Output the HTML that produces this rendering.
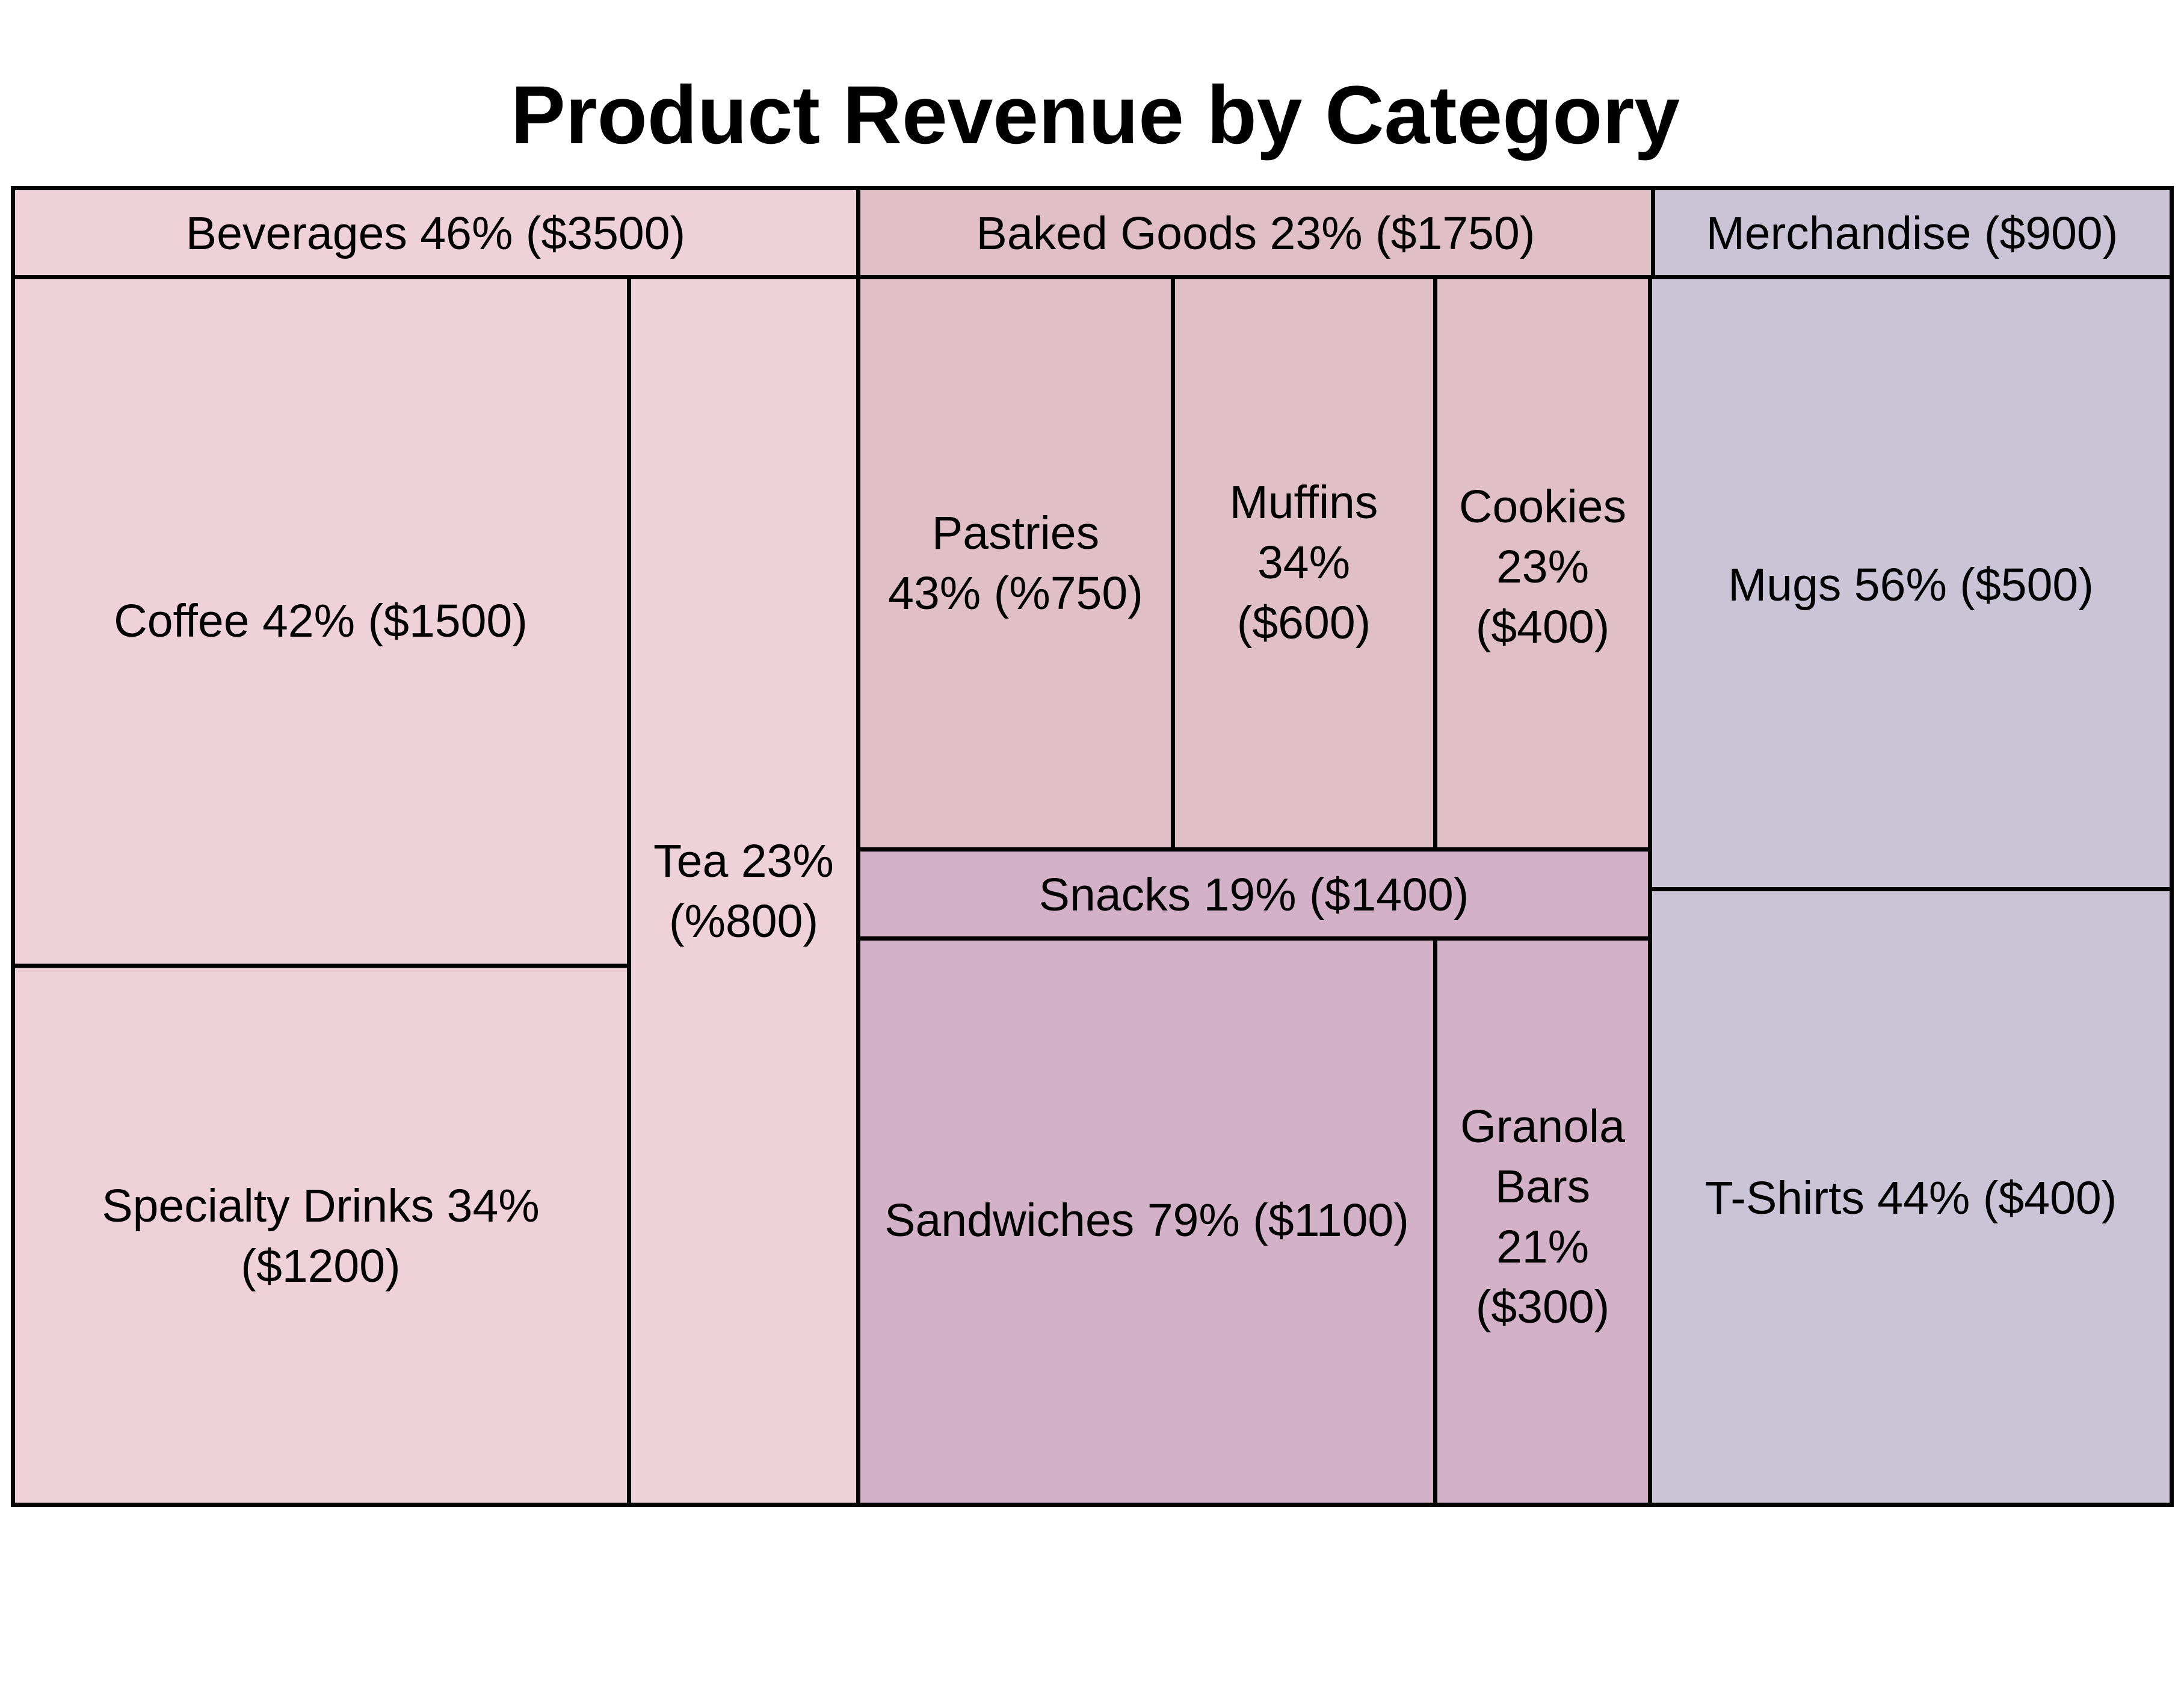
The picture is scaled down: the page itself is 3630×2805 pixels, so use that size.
<!DOCTYPE html>
<html>
<head>
<meta charset="utf-8">
<style>
html,body{margin:0;padding:0;background:#fff;}
svg{display:block;}
text{font-family:"Liberation Sans",Arial,sans-serif;fill:#000;}
</style>
</head>
<body>
<svg width="3630" height="2805" viewBox="0 0 3630 2805" xmlns="http://www.w3.org/2000/svg">
<rect x="0" y="0" width="3630" height="2805" fill="#fff"/>
<!-- Title -->
<text x="1820.5" y="238" font-size="137" font-weight="bold" text-anchor="middle" textLength="1943" lengthAdjust="spacingAndGlyphs">Product Revenue by Category</text>

<!-- Fills -->
<rect x="21.5" y="312.5" width="1405" height="2188" fill="#EFD1DA"/>
<rect x="1426.5" y="312.5" width="1321" height="148" fill="#E0C0C6"/>
<rect x="1426.5" y="460.5" width="1316" height="951" fill="#E0C0C6"/>
<rect x="1426.5" y="1411.5" width="1316" height="1089" fill="#D3B1C7"/>
<rect x="2747.5" y="312.5" width="862" height="148" fill="#CBC4D6"/>
<rect x="2742.5" y="460.5" width="867" height="2040" fill="#CBC4D6"/>

<!-- Lines -->
<g stroke="#000" stroke-width="7" stroke-linecap="square" fill="none">
<rect x="21.5" y="312.5" width="3588" height="2188"/>
<line x1="21.5" y1="460.5" x2="3609.5" y2="460.5"/>
<line x1="1426.5" y1="312.5" x2="1426.5" y2="2500.5"/>
<line x1="2747.5" y1="312.5" x2="2747.5" y2="460.5"/>
<line x1="2742.5" y1="460.5" x2="2742.5" y2="2500.5"/>
<line x1="1045.5" y1="460.5" x2="1045.5" y2="2500.5"/>
<line x1="21.5" y1="1605" x2="1045.5" y2="1605"/>
<line x1="1949.5" y1="460.5" x2="1949.5" y2="1411.5"/>
<line x1="2385.5" y1="460.5" x2="2385.5" y2="1411.5"/>
<line x1="1426.5" y1="1411.5" x2="2742.5" y2="1411.5"/>
<line x1="1426.5" y1="1559.5" x2="2742.5" y2="1559.5"/>
<line x1="2385.5" y1="1559.5" x2="2385.5" y2="2500.5"/>
<line x1="2742.5" y1="1477.5" x2="3609.5" y2="1477.5"/>
</g>

<!-- Labels -->
<g font-size="77" text-anchor="middle">
<!-- headers -->
<text x="724" y="414">Beverages 46% ($3500)</text>
<text x="2087" y="414">Baked Goods 23% ($1750)</text>
<text x="3178" y="414">Merchandise ($900)</text>

<!-- Beverages -->
<text x="533" y="1058">Coffee 42% ($1500)</text>
<text x="533" y="2030">Specialty Drinks 34%</text>
<text x="533" y="2130">($1200)</text>
<text x="1236" y="1457">Tea 23%</text>
<text x="1236" y="1557">(%800)</text>

<!-- Baked Goods -->
<text x="1688" y="912">Pastries</text>
<text x="1688" y="1012">43% (%750)</text>
<text x="2167" y="861">Muffins</text>
<text x="2167" y="961">34%</text>
<text x="2167" y="1061">($600)</text>
<text x="2564" y="868">Cookies</text>
<text x="2564" y="968">23%</text>
<text x="2564" y="1068">($400)</text>

<!-- Snacks -->
<text x="2084" y="1513">Snacks 19% ($1400)</text>
<text x="1906" y="2054">Sandwiches 79% ($1100)</text>
<text x="2564" y="1898">Granola</text>
<text x="2564" y="1998">Bars</text>
<text x="2564" y="2098">21%</text>
<text x="2564" y="2198">($300)</text>

<!-- Merchandise -->
<text x="3176" y="998">Mugs 56% ($500)</text>
<text x="3176" y="2017">T-Shirts 44% ($400)</text>
</g>
</svg>
</body>
</html>
